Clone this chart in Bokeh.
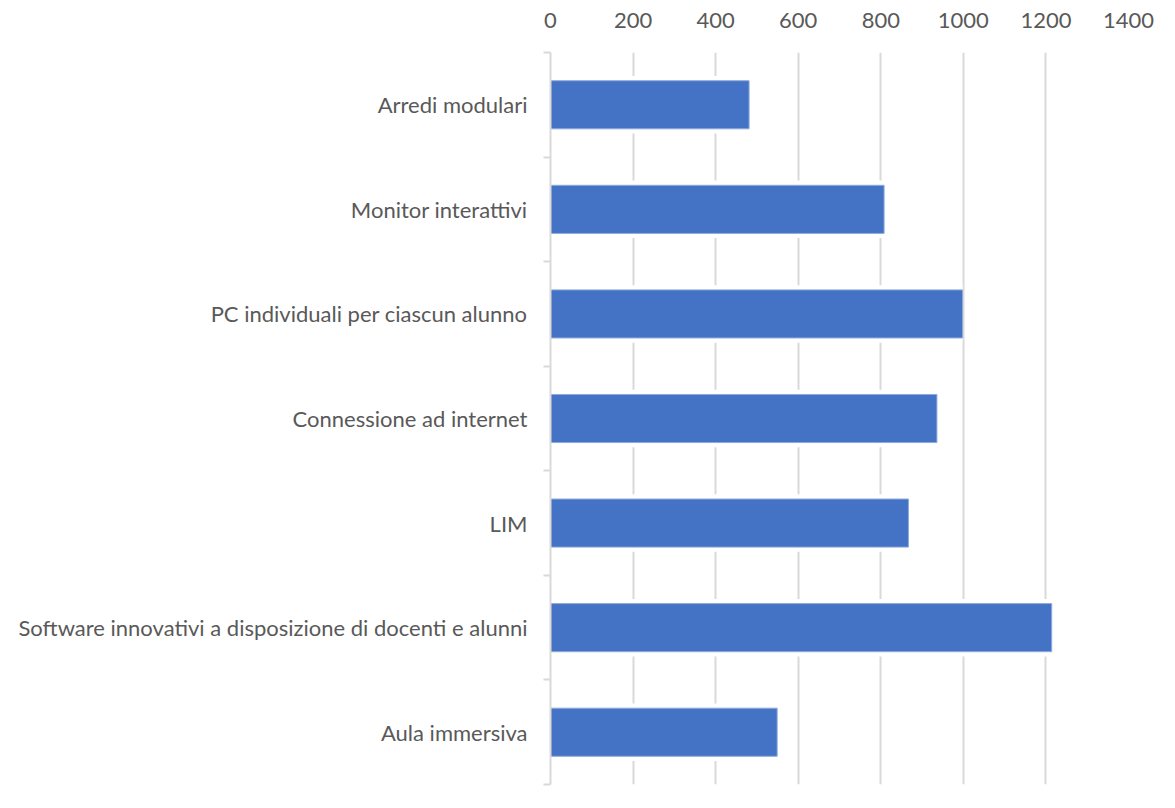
import numpy as np
from bokeh.plotting import figure
from bokeh.models import FixedTicker, Range1d, ColumnDataSource
from bokeh.embed import file_html
from bokeh.resources import INLINE

categories = [
    "Arredi modulari",
    "Monitor interattivi",
    "PC individuali per ciascun alunno",
    "Connessione ad internet",
    "LIM",
    "Software innovativi a disposizione di docenti e alunni",
    "Aula immersiva",
]
values = [481, 808, 998, 936, 867, 1214, 549]
x_ticks = [0, 200, 400, 600, 800, 1000, 1200, 1400]

n = len(categories)
# top category at top of chart
ypos = [n - i - 0.5 for i in range(n)]
boundaries = list(range(0, n + 1))

src = ColumnDataSource(dict(y=ypos, v=values, name=categories))

FONT = "Lato"
GREY = "#595959"

p = figure(
    output_backend="svg", toolbar_location=None,
    frame_width=578, frame_height=732,
    x_range=Range1d(0, 1400), y_range=Range1d(0, n),
    x_axis_location="above",
    min_border_left=550, min_border_top=52, min_border_right=40, min_border_bottom=14,
)
p.outline_line_color = None
p.background_fill_color = "white"

# grid
p.xgrid.ticker = FixedTicker(ticks=x_ticks)
p.xgrid.grid_line_color = "#d9d9d9"
p.xgrid.grid_line_width = 2
p.ygrid.grid_line_color = None

# white halo behind bars (gaps in gridlines), then bars
p.hbar(y="y", right="v", left=0, height=0.55, source=src,
       fill_color="white", line_color=None)
p.hbar(y="y", right="v", left=0, height=0.46, source=src,
       fill_color="#4472c4", line_color="#8eaadb", line_width=1)

# top axis
xa = p.xaxis[0]
xa.ticker = FixedTicker(ticks=x_ticks)
xa.axis_line_color = None
xa.major_tick_line_color = None
xa.minor_tick_line_color = None
xa.major_label_text_font = FONT
xa.major_label_text_font_size = "22px"
xa.major_label_text_color = GREY
xa.major_label_standoff = 19

# left axis
ya = p.yaxis[0]
ya.ticker = FixedTicker(ticks=ypos, minor_ticks=boundaries)
ya.major_label_overrides = {float(y): c for y, c in zip(ypos, categories)}
ya.axis_line_color = "#d9d9d9"
ya.axis_line_width = 2
ya.major_tick_line_color = None
ya.minor_tick_line_color = "#d9d9d9"
ya.minor_tick_line_width = 2
ya.minor_tick_out = 7
ya.minor_tick_in = 0
ya.major_label_text_font = FONT
ya.major_label_text_font_size = "22px"
ya.major_label_text_color = GREY
ya.major_label_standoff = 16

open("out.html", "w").write(file_html(p, INLINE))
